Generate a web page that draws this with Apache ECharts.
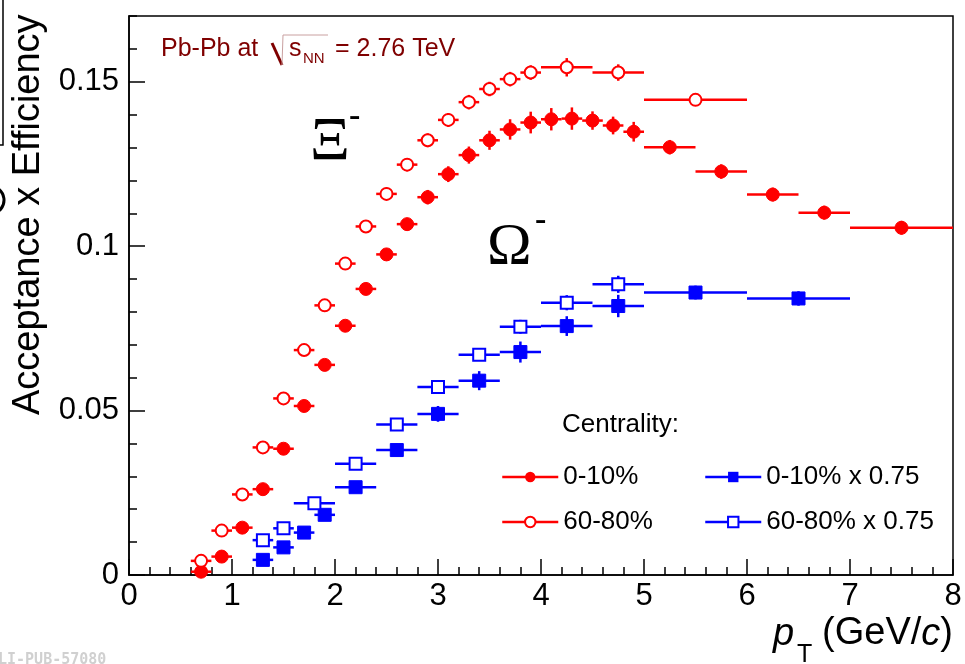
<!DOCTYPE html>
<html>
<head>
<meta charset="utf-8">
<script src="https://cdn.jsdelivr.net/npm/echarts@6/dist/echarts.min.js"></script>
<style>
  html, body { margin: 0; padding: 0; background: #fff; }
  #chart { width: 965px; height: 664px; }
</style>
</head>
<body>
<div id="chart"></div>
<script>
// Xi- , 0-10%
var xiCentPt    = [0.7, 0.9, 1.1, 1.3, 1.5, 1.7, 1.9, 2.1, 2.3, 2.5, 2.7, 2.9, 3.1, 3.3, 3.5, 3.7, 3.9, 4.1, 4.3, 4.5, 4.7, 4.9, 5.25, 5.75, 6.25, 6.75, 7.5]
var xiCentWidth = [0.2, 0.2, 0.2, 0.2, 0.2, 0.2, 0.2, 0.2, 0.2, 0.2, 0.2, 0.2, 0.2, 0.2, 0.2, 0.2, 0.2, 0.2, 0.2, 0.2, 0.2, 0.2, 0.5, 0.5, 0.5, 0.5, 1]
var xiCentVal   = [0.0010, 0.0056, 0.0144, 0.0261, 0.0384, 0.0514, 0.0639, 0.0758, 0.0870, 0.0975, 0.1067, 0.1149, 0.1219, 0.1277, 0.1322, 0.1355, 0.1376, 0.1386, 0.1388, 0.1382, 0.1367, 0.1348, 0.1301, 0.1227, 0.1157, 0.1102, 0.1056]
var xiCentErr   = [0.0005, 0.0008, 0.0010, 0.0012, 0.0013, 0.0014, 0.0015, 0.0016, 0.0017, 0.0018, 0.0019, 0.0022, 0.0024, 0.0026, 0.0029, 0.0031, 0.0033, 0.0034, 0.0034, 0.0028, 0.0027, 0.0030, 0.0022, 0.0022, 0.0021, 0.0021, 0.0021]

// Xi- , 60-80%
var xiPeriPt    = [0.7, 0.9, 1.1, 1.3, 1.5, 1.7, 1.9, 2.1, 2.3, 2.5, 2.7, 2.9, 3.1, 3.3, 3.5, 3.7, 3.9, 4.25, 4.75, 5.5]
var xiPeriWidth = [0.2, 0.2, 0.2, 0.2, 0.2, 0.2, 0.2, 0.2, 0.2, 0.2, 0.2, 0.2, 0.2, 0.2, 0.2, 0.2, 0.2, 0.5, 0.5, 1]
var xiPeriVal   = [0.0043, 0.0135, 0.0245, 0.0388, 0.0537, 0.0684, 0.0820, 0.0947, 0.1060, 0.1159, 0.1248, 0.1322, 0.1384, 0.1438, 0.1478, 0.1508, 0.1528, 0.1544, 0.1528, 0.1445]
var xiPeriErr   = [0.0010, 0.0011, 0.0012, 0.0013, 0.0014, 0.0015, 0.0016, 0.0017, 0.0018, 0.0019, 0.0020, 0.0021, 0.0021, 0.0022, 0.0022, 0.0022, 0.0022, 0.0028, 0.0025, 0.0015]

// Omega- , 0-10% x 0.75
var omCentPt    = [1.3, 1.5, 1.7, 1.9, 2.2, 2.6, 3.0, 3.4, 3.8, 4.25, 4.75, 5.5, 6.5]
var omCentWidth = [0.2, 0.2, 0.2, 0.2, 0.4, 0.4, 0.4, 0.4, 0.4, 0.5, 0.5, 1, 1]
var omCentVal   = [0.0046, 0.0084, 0.0129, 0.0183, 0.0267, 0.0380, 0.0490, 0.0591, 0.0678, 0.0757, 0.0818, 0.0859, 0.0841]
var omCentErr   = [0.0012, 0.0013, 0.0014, 0.0015, 0.0016, 0.0019, 0.0024, 0.0029, 0.0032, 0.0030, 0.0034, 0.0021, 0.0022]

// Omega- , 60-80% x 0.75
var omPeriPt    = [1.3, 1.5, 1.8, 2.2, 2.6, 3.0, 3.4, 3.8, 4.25, 4.75]
var omPeriWidth = [0.2, 0.2, 0.4, 0.4, 0.4, 0.4, 0.4, 0.4, 0.5, 0.5]
var omPeriVal   = [0.0106, 0.0142, 0.0218, 0.0338, 0.0458, 0.0572, 0.0670, 0.0755, 0.0828, 0.0884]
var omPeriErr   = [0.0012, 0.0013, 0.0014, 0.0015, 0.0016, 0.0017, 0.0019, 0.0021, 0.0023, 0.0026]

var RED = '#ff0000'
var BLUE = '#0000ff'
var FONT = 'Liberation Sans, Arial, sans-serif'
var SERIF = 'Liberation Serif, Times New Roman, serif'

function rows (pt, w, val, err) {
  return pt.map(function (x, i) { return [x, val[i], w[i], err[i]] })
}

function renderErr (params, api) {
  var x = api.value(0), y = api.value(1), w = api.value(2), e = api.value(3)
  var l = api.coord([x - w / 2, y])
  var r = api.coord([x + w / 2, y])
  var lo = api.coord([x, y - e])
  var hi = api.coord([x, y + e])
  var st = { stroke: api.visual('color'), lineWidth: 2.5 }
  return {
    type: 'group',
    children: [
      { type: 'line', shape: { x1: l[0], y1: l[1], x2: r[0], y2: r[1] }, style: st },
      { type: 'line', shape: { x1: lo[0], y1: lo[1], x2: hi[0], y2: hi[1] }, style: st }
    ]
  }
}

function errSeries (name, color, pt, w, val, err) {
  return {
    type: 'custom',
    name: name + ' err',
    renderItem: renderErr,
    itemStyle: { color: color },
    encode: { x: 0, y: 1 },
    data: rows(pt, w, val, err),
    z: 2,
    silent: true
  }
}

function markSeries (name, color, symbol, size, pt, val) {
  return {
    type: 'line',
    name: name,
    data: pt.map(function (x, i) { return [x, val[i]] }),
    symbol: symbol,
    symbolSize: size,
    itemStyle: { color: color, borderColor: color },
    lineStyle: { color: color, opacity: 0 },
    z: 3,
    animation: false
  }
}

var legendCommon = {
  orient: 'vertical',
  top: 457,
  itemWidth: 56,
  itemHeight: 13,
  itemGap: 15,
  lineStyle: { opacity: 1, width: 2.5 },
  textStyle: { fontSize: 26, fontFamily: FONT, color: '#000', lineHeight: 30 },
  selectedMode: false
}

var dom = document.getElementById('chart')
var chart = echarts.init(dom, null, { renderer: 'canvas' })

var option = {
  backgroundColor: '#fff',
  animation: false,
  grid: {
    left: 129,
    right: 12,
    top: 16,
    bottom: 89,
    show: true,
    borderColor: '#000',
    borderWidth: 1.5,
    backgroundColor: 'transparent'
  },
  legend: [
    Object.assign({ left: 496, data: ['0-10%', '60-80%'] }, legendCommon),
    Object.assign({ left: 699, data: ['0-10% x 0.75', '60-80% x 0.75'] }, legendCommon)
  ],
  xAxis: {
    type: 'value',
    min: 0,
    max: 8,
    interval: 1,
    axisLine: { show: true, lineStyle: { color: '#000', width: 1.5 } },
    axisTick: { show: true, inside: true, length: 16, lineStyle: { color: '#000', width: 1.5 } },
    minorTick: { show: true, splitNumber: 5, length: 8, lineStyle: { color: '#000', width: 1.5 } },
    axisLabel: { fontSize: 31, fontFamily: FONT, color: '#000', margin: 6 },
    splitLine: { show: false }
  },
  yAxis: [
    {
      type: 'value',
      min: 0,
      max: 0.17,
      interval: 0.05,
      axisLine: { show: true, lineStyle: { color: '#000', width: 1.5 } },
      axisTick: { show: true, inside: true, length: 16, lineStyle: { color: '#000', width: 1.5 } },
      axisLabel: {
        fontSize: 31,
        fontFamily: FONT,
        color: '#000',
        margin: 10,
        showMaxLabel: false,
        formatter: function (v) { return String(+v.toFixed(2)) }
      },
      splitLine: { show: false }
    },
    {
      type: 'value',
      min: 0,
      max: 0.17,
      interval: 0.01,
      position: 'left',
      axisLine: { show: false },
      axisTick: { show: true, inside: true, length: 8, lineStyle: { color: '#000', width: 1.5 } },
      axisLabel: { show: false },
      splitLine: { show: false }
    }
  ],
  graphic: [
    // y axis title
    {
      type: 'text', x: 29, y: 415, rotation: Math.PI / 2,
      style: { text: 'Acceptance x Efficiency', font: '38px ' + FONT, fill: '#000', align: 'left', verticalAlign: 'middle' }
    },
    // x axis title
    {
      type: 'text', x: 773, y: 634,
      style: { text: 'p', font: 'italic 38px ' + FONT, fill: '#000', align: 'left', verticalAlign: 'middle' }
    },
    {
      type: 'text', x: 797, y: 655,
      style: { text: 'T', font: '25px ' + FONT, fill: '#000', align: 'left', verticalAlign: 'middle' }
    },
    {
      type: 'text', x: 953, y: 634,
      style: {
        text: '(GeV/{i|c})',
        font: '38px ' + FONT, fill: '#000', align: 'right', verticalAlign: 'middle',
        rich: { i: { font: 'italic 38px ' + FONT, fill: '#000' } }
      }
    },
    // collision system label
    {
      type: 'text', x: 161, y: 49,
      style: { text: 'Pb-Pb at', font: '25px ' + FONT, fill: '#7f0000', align: 'left', verticalAlign: 'middle' }
    },
    {
      type: 'line', shape: { x1: 272, y1: 43, x2: 282, y2: 65 },
      style: { stroke: '#7f0000', lineWidth: 3 }
    },
    {
      type: 'polyline', shape: { points: [[282, 65], [283, 35], [328, 35]] },
      style: { stroke: '#c9a0a0', lineWidth: 1, fill: null }
    },
    {
      type: 'text', x: 289, y: 49,
      style: { text: 's', font: '25px ' + FONT, fill: '#7f0000', align: 'left', verticalAlign: 'middle' }
    },
    {
      type: 'text', x: 303, y: 59,
      style: { text: 'NN', font: '15px ' + FONT, fill: '#7f0000', align: 'left', verticalAlign: 'middle' }
    },
    {
      type: 'text', x: 335, y: 49,
      style: { text: '= 2.76 TeV', font: '25px ' + FONT, fill: '#7f0000', align: 'left', verticalAlign: 'middle' }
    },
    // particle labels
    {
      type: 'text', x: 310, y: 143,
      style: { text: 'Ξ', font: '62px ' + SERIF, fill: '#000', align: 'left', verticalAlign: 'middle' }
    },
    {
      type: 'text', x: 349, y: 117,
      style: { text: '-', font: 'bold 34px ' + SERIF, fill: '#000', align: 'left', verticalAlign: 'middle' }
    },
    {
      type: 'text', x: 487, y: 248,
      style: { text: 'Ω', font: '60px ' + SERIF, fill: '#000', align: 'left', verticalAlign: 'middle' }
    },
    {
      type: 'text', x: 535, y: 221,
      style: { text: '-', font: 'bold 34px ' + SERIF, fill: '#000', align: 'left', verticalAlign: 'middle' }
    },
    // legend header
    {
      type: 'text', x: 562, y: 425,
      style: { text: 'Centrality:', font: '26px ' + FONT, fill: '#000', align: 'left', verticalAlign: 'middle' }
    },
    // fragments of the neighbouring panel at the left edge
    {
      type: 'polyline', shape: { points: [[3, 0], [3, 145], [0, 145]] },
      style: { stroke: '#000', lineWidth: 1.5, fill: null }
    },
    {
      type: 'arc', shape: { cx: -10, cy: 200, r: 14, startAngle: -0.9, endAngle: 0.9 },
      style: { stroke: '#000', lineWidth: 3, fill: null }
    },
    {
      type: 'text', x: -2, y: 660,
      style: { text: 'LI-PUB-57080', font: 'bold 15px DejaVu Sans Mono, monospace', fill: '#d0d0d0', align: 'left', verticalAlign: 'middle' }
    }
  ],
  series: [
    errSeries('0-10%', RED, xiCentPt, xiCentWidth, xiCentVal, xiCentErr),
    errSeries('60-80%', RED, xiPeriPt, xiPeriWidth, xiPeriVal, xiPeriErr),
    errSeries('0-10% x 0.75', BLUE, omCentPt, omCentWidth, omCentVal, omCentErr),
    errSeries('60-80% x 0.75', BLUE, omPeriPt, omPeriWidth, omPeriVal, omPeriErr),
    markSeries('0-10%', RED, 'circle', 13, xiCentPt, xiCentVal),
    markSeries('60-80%', RED, 'emptyCircle', 12, xiPeriPt, xiPeriVal),
    markSeries('0-10% x 0.75', BLUE, 'rect', 13, omCentPt, omCentVal),
    markSeries('60-80% x 0.75', BLUE, 'emptyRect', 12, omPeriPt, omPeriVal)
  ]
}

chart.setOption(option)
window.addEventListener('resize', function () { chart.resize() })
</script>
</body>
</html>
